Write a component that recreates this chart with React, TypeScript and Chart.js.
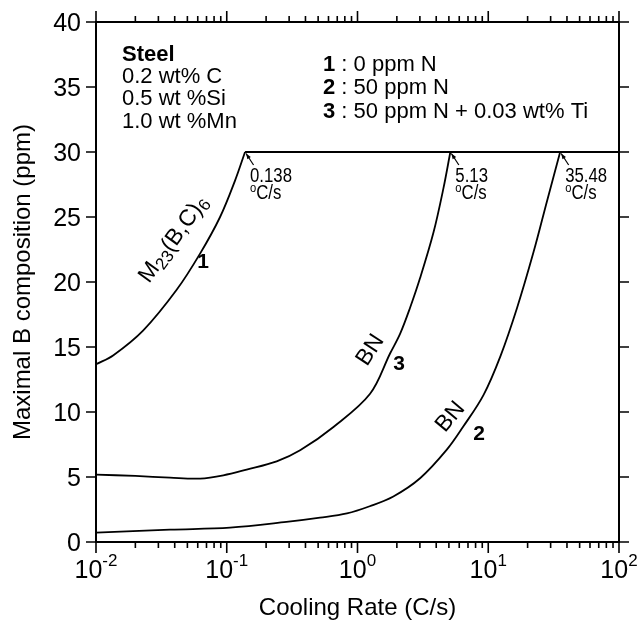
import React, { useEffect, useRef } from "react";
import { Chart, registerables } from "chart.js";

Chart.register(...registerables);

// ---------- data ----------
const curve1X = [0.01, 0.0136, 0.023, 0.0414, 0.0625, 0.0889, 0.1157, 0.138];
const curve1Y = [13.67, 14.37, 16.28, 19.4, 22.18, 25.0, 27.8, 30];

const curve3X = [0.01, 0.02, 0.0368, 0.0625, 0.0942, 0.142, 0.241, 0.364, 0.655, 1.248, 1.774, 2.12, 2.52, 3.01, 3.81, 4.54, 5.13];
const curve3Y = [5.18, 5.08, 4.95, 4.88, 5.13, 5.57, 6.2, 7.05, 8.85, 11.4, 14.5, 16.03, 18.0, 20.3, 23.8, 27.2, 30];

const curve2X = [0.01, 0.0368, 0.106, 0.286, 0.517, 0.83, 1.24, 1.88, 3.01, 4.82, 6.46, 9.19, 12.4, 16.6, 22.2, 28.1, 35.48];
const curve2Y = [0.72, 0.95, 1.1, 1.54, 1.87, 2.2, 2.75, 3.5, 4.9, 7.1, 8.9, 11.3, 14.3, 18.0, 22.3, 26.2, 30];

const limitX = [0.138, 100];
const limitY = [30, 30];

const yTicks = [0, 5, 10, 15, 20, 25, 30, 35, 40];
const xDecades = [-2, -1, 0, 1, 2];
const criticalRates = [0.138, 5.13, 35.48];
const criticalLabels = ["0.138", "5.13", "35.48"];

const steelTitle = "Steel";
const steelLines = ["0.2 wt% C", "0.5 wt %Si", "1.0 wt %Mn"];
const legendNums = ["1", "2", "3"];
const legendTexts = [" : 0 ppm N", " : 50 ppm N", " : 50 ppm N + 0.03 wt% Ti"];

const xTitle = "Cooling Rate (C/s)";
const yTitle = "Maximal B composition (ppm)";

// ---------- helpers ----------
const FONT = "'Liberation Sans', Arial, Helvetica, sans-serif";

type Run = { text: string; size: number; bold?: boolean; dy?: number };

function runsWidth(ctx: CanvasRenderingContext2D, runs: Run[]) {
  let w = 0;
  for (const r of runs) {
    ctx.font = `${r.bold ? "bold " : ""}${r.size}px ${FONT}`;
    w += ctx.measureText(r.text).width;
  }
  return w;
}

function drawRuns(
  ctx: CanvasRenderingContext2D,
  runs: Run[],
  x: number,
  y: number,
  align: "left" | "center" | "right" = "left",
  sx = 1
) {
  const w = runsWidth(ctx, runs) * sx;
  const x0 = align === "left" ? x : align === "center" ? x - w / 2 : x - w;
  ctx.save();
  ctx.translate(x0, y);
  ctx.scale(sx, 1);
  ctx.textAlign = "left";
  ctx.textBaseline = "alphabetic";
  let cx = 0;
  for (const r of runs) {
    ctx.font = `${r.bold ? "bold " : ""}${r.size}px ${FONT}`;
    ctx.fillText(r.text, cx, r.dy || 0);
    cx += ctx.measureText(r.text).width;
  }
  ctx.restore();
}

function toPts(xs: number[], ys: number[]) {
  return xs.map((x, i) => ({ x, y: ys[i] }));
}

const decorPlugin = {
  id: "decor",
  afterDatasetsDraw(chart: any) {
    const ctx: CanvasRenderingContext2D = chart.ctx;
    const xs = chart.scales.x;
    const ys = chart.scales.y;
    const { left, right, top, bottom } = chart.chartArea;
    ctx.save();
    ctx.fillStyle = "#000";
    ctx.strokeStyle = "#000";

    // frame
    ctx.lineWidth = 2;
    ctx.beginPath();
    ctx.rect(left, top, right - left, bottom - top);
    ctx.stroke();

    // x ticks (bottom + top, outward)
    ctx.lineWidth = 1.6;
    for (let d = xDecades[0]; d <= xDecades[xDecades.length - 1]; d++) {
      const major = xs.getPixelForValue(Math.pow(10, d));
      ctx.beginPath();
      ctx.moveTo(major, bottom);
      ctx.lineTo(major, bottom + 11);
      ctx.moveTo(major, top);
      ctx.lineTo(major, top - 11);
      ctx.stroke();
      if (d < xDecades[xDecades.length - 1]) {
        for (let m = 2; m <= 9; m++) {
          const px = xs.getPixelForValue(m * Math.pow(10, d));
          ctx.beginPath();
          ctx.moveTo(px, bottom);
          ctx.lineTo(px, bottom + 6);
          ctx.moveTo(px, top);
          ctx.lineTo(px, top - 6);
          ctx.stroke();
        }
      }
    }
    // y ticks (left + right, outward)
    for (const v of yTicks) {
      const py = ys.getPixelForValue(v);
      ctx.beginPath();
      ctx.moveTo(left, py);
      ctx.lineTo(left - 10, py);
      ctx.moveTo(right, py);
      ctx.lineTo(right + 10, py);
      ctx.stroke();
    }

    // y tick labels
    for (const v of yTicks) {
      const py = ys.getPixelForValue(v);
      drawRuns(ctx, [{ text: String(v), size: 25 }], left - 15, py + 9, "right");
    }
    // x tick labels 10^n
    for (const d of xDecades) {
      const px = xs.getPixelForValue(Math.pow(10, d));
      drawRuns(ctx, [{ text: "10", size: 25 }, { text: String(d), size: 17, dy: -12 }], px, bottom + 36, "center");
    }

    // axis titles
    drawRuns(ctx, [{ text: xTitle, size: 24 }], (left + right) / 2, 615, "center");
    ctx.save();
    ctx.translate(30, (top + bottom) / 2);
    ctx.rotate(-Math.PI / 2);
    drawRuns(ctx, [{ text: yTitle, size: 24 }], 0, 0, "center");
    ctx.restore();

    // Steel composition block
    drawRuns(ctx, [{ text: steelTitle, size: 22, bold: true }], 122, 61);
    steelLines.forEach((t, i) => drawRuns(ctx, [{ text: t, size: 22 }], 122, 83 + i * 22.3));

    // legend block
    legendNums.forEach((n, i) =>
      drawRuns(ctx, [{ text: n, size: 22, bold: true }, { text: legendTexts[i], size: 22 }], 323, 71 + i * 23.3)
    );

    // critical cooling rate annotations with arrows
    const y30 = ys.getPixelForValue(30);
    ctx.lineWidth = 1.2;
    criticalRates.forEach((r, i) => {
      const px = xs.getPixelForValue(r);
      const tipX = px + 1, tipY = y30 + 1.5;
      ctx.beginPath();
      ctx.moveTo(px + 8.5, y30 + 13);
      ctx.lineTo(tipX, tipY);
      ctx.stroke();
      const ang = Math.atan2(y30 + 13 - tipY, px + 8.5 - tipX);
      ctx.beginPath();
      ctx.moveTo(tipX, tipY);
      ctx.lineTo(tipX + 6 * Math.cos(ang - 0.35), tipY + 6 * Math.sin(ang - 0.35));
      ctx.lineTo(tipX + 6 * Math.cos(ang + 0.35), tipY + 6 * Math.sin(ang + 0.35));
      ctx.closePath();
      ctx.fill();
      drawRuns(ctx, [{ text: criticalLabels[i], size: 19.5 }], px + 5, y30 + 30, "left", 0.86);
      drawRuns(ctx, [{ text: "o", size: 13, dy: -7 }, { text: "C/s", size: 19.5 }], px + 5, y30 + 46.5, "left", 0.86);
    });

    // curve labels
    const rotLabel = (runs: Run[], xv: number, yv: number, deg: number) => {
      ctx.save();
      ctx.translate(xs.getPixelForValue(xv), ys.getPixelForValue(yv));
      ctx.rotate((deg * Math.PI) / 180);
      drawRuns(ctx, runs, 0, 0, "center");
      ctx.restore();
    };
    rotLabel(
      [
        { text: "M", size: 23 },
        { text: "23", size: 17, dy: 4 },
        { text: "(B,C)", size: 23 },
        { text: "6", size: 17, dy: 4 },
      ],
      0.043, 23.0, -54
    );
    drawRuns(ctx, [{ text: "1", size: 21, bold: true }], xs.getPixelForValue(0.066), ys.getPixelForValue(21.7) + 8, "center");
    rotLabel([{ text: "BN", size: 23 }], 1.38, 14.5, -57);
    drawRuns(ctx, [{ text: "3", size: 21, bold: true }], xs.getPixelForValue(2.08), ys.getPixelForValue(13.85) + 8, "center");
    rotLabel([{ text: "BN", size: 23 }], 5.6, 9.3, -50);
    drawRuns(ctx, [{ text: "2", size: 21, bold: true }], xs.getPixelForValue(8.51), ys.getPixelForValue(8.46) + 8, "center");

    ctx.restore();
  },
};

export default function App() {
  const ref = useRef<HTMLCanvasElement | null>(null);
  useEffect(() => {
    document.body.style.margin = "0";
    const canvas = ref.current!;
    const lineDs = (xs: number[], ys: number[], w: number, tension: number) => ({
      data: toPts(xs, ys),
      showLine: true,
      borderColor: "#000",
      backgroundColor: "#000",
      borderWidth: w,
      pointRadius: 0,
      tension,
      fill: false,
    });
    const chart = new Chart(canvas, {
      type: "scatter",
      data: {
        datasets: [
          lineDs(curve1X, curve1Y, 1.8, 0.35),
          lineDs(curve3X, curve3Y, 1.8, 0.35),
          lineDs(curve2X, curve2Y, 1.8, 0.35),
          lineDs(limitX, limitY, 2, 0),
        ],
      },
      options: {
        responsive: false,
        animation: false,
        devicePixelRatio: 1,
        layout: { padding: { left: 96, right: 23, top: 22, bottom: 81 } },
        plugins: { legend: { display: false }, tooltip: { enabled: false } },
        events: [],
        scales: {
          x: { type: "logarithmic", min: 0.01, max: 100, display: false },
          y: { type: "linear", min: 0, max: 40, display: false },
        },
      },
      plugins: [decorPlugin],
    } as any);
    return () => chart.destroy();
  }, []);
  return (
    <div style={{ width: 642, height: 623, background: "#fff" }}>
      <canvas ref={ref} width={642} height={623} style={{ display: "block" }} />
    </div>
  );
}
